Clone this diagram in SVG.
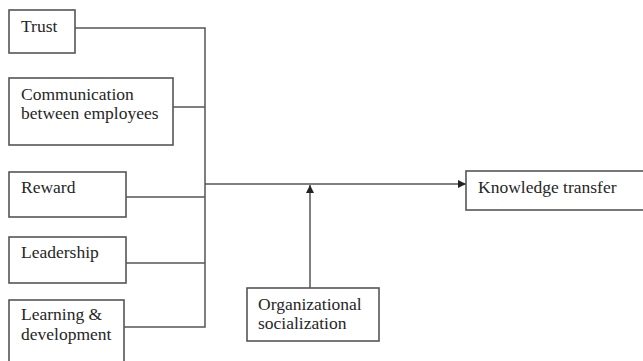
<svg xmlns="http://www.w3.org/2000/svg" width="643" height="361" viewBox="0 0 643 361">
<style>
.box{fill:#fff;stroke:#555;stroke-width:1.6}
.t{font-family:"Liberation Serif","Times New Roman","DejaVu Serif",serif;font-size:17.5px;fill:#262626}
.ln{fill:none;stroke:#555;stroke-width:1.5}
</style>
<defs>
<marker id="ah" viewBox="0 0 10 10" refX="10" refY="5" markerWidth="8" markerHeight="8" markerUnits="userSpaceOnUse" orient="auto">
<path d="M0,0 L10,5 L0,10 z" fill="#222"/>
</marker>
</defs>
<rect width="643" height="361" fill="#fff"/>
<g id="connectors">
<path class="ln" d="M75,28 H205 V327 H124"/>
<path class="ln" d="M173,107 H205"/>
<path class="ln" d="M126,197 H205"/>
<path class="ln" d="M126,263 H205"/>
<path class="ln" d="M205,184 H466" marker-end="url(#ah)"/>
<path class="ln" d="M310,288 V185" marker-end="url(#ah)"/>
</g>
<g id="trust"><rect class="box" x="9" y="10" width="66" height="43"/><text class="t" x="21" y="32">Trust</text></g>
<g id="communication"><rect class="box" x="9" y="78" width="164" height="67"/><text class="t" x="21" y="100">Communication</text><text class="t" x="21" y="119">between employees</text></g>
<g id="reward"><rect class="box" x="9" y="172" width="117" height="45"/><text class="t" x="21" y="193">Reward</text></g>
<g id="leadership"><rect class="box" x="9" y="237" width="117" height="46"/><text class="t" x="21" y="258">Leadership</text></g>
<g id="learning"><rect class="box" x="9" y="300" width="115" height="70"/><text class="t" x="21" y="320">Learning &amp;</text><text class="t" x="21" y="340">development</text></g>
<g id="knowledge"><rect class="box" x="466" y="171" width="185" height="39"/><text class="t" x="478" y="193">Knowledge transfer</text></g>
<g id="socialization"><rect class="box" x="247" y="288" width="132" height="53"/><text class="t" x="258" y="310">Organizational</text><text class="t" x="258" y="329">socialization</text></g>
</svg>
